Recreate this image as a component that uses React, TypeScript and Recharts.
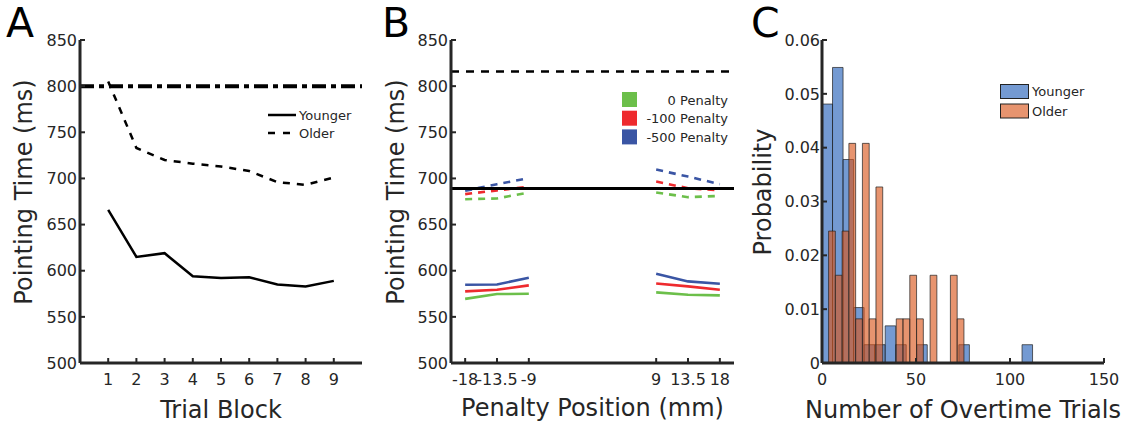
import {
  LineChart, Line, XAxis, YAxis, ReferenceLine, ReferenceArea,
  ComposedChart, Legend, Label,
} from "recharts";

const FONT = "'DejaVu Sans', sans-serif";
const INK = "#262626";

// ---- panel A: pointing time across trial blocks
const trialBlocks = [1, 2, 3, 4, 5, 6, 7, 8, 9];
const youngerByBlock = [666, 615, 619, 594, 592, 593, 585, 583, 589];
const olderByBlock = [805, 733, 720, 716, 713, 708, 696, 693, 701];
const deadlineA = 800;
const timeTicks = [500, 550, 600, 650, 700, 750, 800, 850];

// ---- panel B: pointing time by penalty position
const penaltyPositions = [-18, -13.5, -9, 9, 13.5, 18];
const youngerPen0 = [569.5, 574.7, 575, 576.5, 574, 573.3];
const youngerPen100 = [577.6, 579.4, 584.1, 586.2, 583, 579.4];
const youngerPen500 = [584.8, 585, 592.4, 596.7, 588.4, 585.9];
const olderPen0 = [677.5, 678.3, 684.8, 684.8, 679.7, 681];
const olderPen100 = [683, 687, 691, 696.6, 689.4, 687];
const olderPen500 = [686.6, 693.8, 700.3, 709.6, 702, 693.8];
const olderDeadlineB = 816;
const youngerDeadlineB = 689;

// ---- panel C: histogram of overtime trials
const youngerBinEdges = [0, 5.6, 11.2, 16.8, 22.4, 28, 33.6, 39.2, 44.8, 50.4, 56, 61.6, 67.2, 72.8, 78.4, 84, 89.6, 95.2, 100.8, 106.4, 112];
const youngerProb = [0.0481, 0.0549, 0.0378, 0.0103, 0.0034, 0.0034, 0.0069, 0.0034, 0, 0.0034, 0, 0, 0, 0.0034, 0, 0, 0, 0, 0, 0.0034];
const olderBinEdges = [3.5, 7.1, 10.7, 14.3, 17.9, 21.5, 25.1, 28.7, 32.3, 35.9, 39.5, 43.1, 46.7, 50.3, 53.9, 57.5, 61.1, 64.7, 68.3, 71.9, 75.5];
const olderProb = [0.0245, 0.0163, 0.0245, 0.0408, 0.0082, 0.0408, 0.0082, 0.0327, 0, 0, 0.0082, 0.0082, 0.0163, 0.0082, 0, 0.0163, 0, 0, 0.0163, 0.0082];
const countTicks = [0, 50, 100, 150];
const probTicks = [0, 0.01, 0.02, 0.03, 0.04, 0.05, 0.06];

const penaltySeries = [
  { name: "0 Penalty", color: "#6cbf4a", younger: youngerPen0, older: olderPen0 },
  { name: "-100 Penalty", color: "#ee2a2e", younger: youngerPen100, older: olderPen100 },
  { name: "-500 Penalty", color: "#3a55a4", younger: youngerPen500, older: olderPen500 },
];

const rowsA = trialBlocks.map((b, i) => ({ block: b, younger: youngerByBlock[i], older: olderByBlock[i] }));

// null row at 0 splits left / right segments
const rowsB = penaltyPositions.flatMap((p, i) => {
  const row: Record<string, number | null> = { pos: p };
  penaltySeries.forEach((s, k) => {
    row[`y${k}`] = s.younger[i];
    row[`o${k}`] = s.older[i];
  });
  if (i === 3) {
    const gap: Record<string, number | null> = { pos: 0 };
    penaltySeries.forEach((_, k) => { gap[`y${k}`] = null; gap[`o${k}`] = null; });
    return [gap, row];
  }
  return [row];
});

const binsOf = (edges: number[], probs: number[]) =>
  probs.map((p, i) => ({ x: edges[i], x2: edges[i + 1], p })).filter((b) => b.p > 0);
const youngerBins = binsOf(youngerBinEdges, youngerProb);
const olderBins = binsOf(olderBinEdges, olderProb);

const BLUE = "#235fb8";
const ORANGE = "#d9551b";
const BAR_ALPHA = 0.63;

const tickStyle = { fill: INK, fontSize: 16, fontFamily: FONT };
const axisLine = { stroke: INK, strokeWidth: 3 };
const tickLine = { stroke: INK, strokeWidth: 2 };

const yTitle = (text: string, cx: number) => (props: any) => {
  const vb = props.viewBox || { y: 40, height: 323 };
  const cy = vb.y + vb.height / 2 - 9.5;
  return (
    <text x={cx} y={cy} transform={`rotate(-90 ${cx} ${cy})`} textAnchor="middle"
      dominantBaseline="central" fontSize={24} fontFamily={FONT} fill={INK}>
      {text}
    </text>
  );
};

const xTitle = (text: string, baseline: number) => (props: any) => {
  const vb = props.viewBox || { x: 0, width: 300 };
  return (
    <text x={vb.x + vb.width / 2} y={baseline} textAnchor="middle" fontSize={24} fontFamily={FONT} fill={INK}>
      {text}
    </text>
  );
};

const panelLetter = (letter: string, left: number) => (
  <div style={{ position: "absolute", left, top: 0, fontFamily: FONT, fontSize: 41, lineHeight: "47px", color: "#000" }}>
    {letter}
  </div>
);

function BlockKey() {
  const rows = [{ name: "Younger", dash: undefined }, { name: "Older", dash: "7 8" }];
  return (
    <svg width={90} height={40} style={{ display: "block" }}>
      {rows.map((r, i) => (
        <g key={r.name}>
          <line x1={0} x2={28} y1={7 + i * 18} y2={7 + i * 18} stroke="#000" strokeWidth={2.5} strokeDasharray={r.dash} />
          <text x={31} y={7 + i * 18} dominantBaseline="central" fontSize={13} fontFamily={FONT} fill={INK}>{r.name}</text>
        </g>
      ))}
    </svg>
  );
}

function PenaltyKey() {
  return (
    <svg width={110} height={56} style={{ display: "block" }}>
      {penaltySeries.map((s, i) => (
        <g key={s.name}>
          <rect x={0} y={i * 18.7} width={15} height={15} fill={s.color} />
          <text x={106} y={i * 18.7 + 8} textAnchor="end" dominantBaseline="central" fontSize={13} fontFamily={FONT} fill={INK}>{s.name}</text>
        </g>
      ))}
    </svg>
  );
}

function GroupKey() {
  const rows = [{ name: "Younger", color: BLUE }, { name: "Older", color: ORANGE }];
  return (
    <svg width={90} height={36} style={{ display: "block" }}>
      {rows.map((r, i) => (
        <g key={r.name}>
          <rect x={0.5} y={0.5 + i * 19.5} width={28} height={14} fill={r.color} fillOpacity={BAR_ALPHA} stroke="#222" strokeWidth={1} />
          <text x={32} y={7.5 + i * 19.5} dominantBaseline="central" fontSize={13} fontFamily={FONT} fill={INK}>{r.name}</text>
        </g>
      ))}
    </svg>
  );
}

export default function App() {
  return (
    <div style={{ position: "absolute", left: 0, top: 0, width: 1133, height: 425, background: "#fff", overflow: "hidden" }}>
      {/* A */}
      <div style={{ position: "absolute", left: 0, top: 0 }}>
        <LineChart width={380} height={425} data={rowsA} margin={{ top: 40, right: 18, bottom: 0, left: 0 }}>
          <XAxis dataKey="block" type="number" domain={[0, 10]} ticks={trialBlocks} interval={0}
            height={62} axisLine={axisLine} tickLine={tickLine} tickSize={-5} tickMargin={16} tick={tickStyle}
            label={<Label content={xTitle("Trial Block", 418)} />} />
          <YAxis type="number" domain={[500, 850]} ticks={timeTicks} interval={0} width={80}
            axisLine={axisLine} tickLine={tickLine} tickSize={-5} tickMargin={8} tick={tickStyle}
            label={<Label content={yTitle("Pointing Time (ms)", 24)} />} />
          <ReferenceLine y={deadlineA} stroke="#000" strokeWidth={4} strokeDasharray="14 5 5 5" />
          <Line dataKey="younger" stroke="#000" strokeWidth={2.5} dot={false} isAnimationActive={false} />
          <Line dataKey="older" stroke="#000" strokeWidth={2.5} strokeDasharray="7 7" dot={false} isAnimationActive={false} />
          <Legend layout="horizontal" align="center" verticalAlign="middle" content={() => <BlockKey />}
            wrapperStyle={{ position: "absolute", left: 268, top: 108, width: 90 }} />
        </LineChart>
      </div>
      {panelLetter("A", 6)}

      {/* B */}
      <div style={{ position: "absolute", left: 380, top: 0 }}>
        <LineChart width={370} height={425} data={rowsB} margin={{ top: 40, right: 16, bottom: 0, left: 0 }}>
          <XAxis dataKey="pos" type="number" domain={[-20, 20]} ticks={penaltyPositions} interval={0}
            height={62} axisLine={axisLine} tickLine={tickLine} tickSize={-5} tickMargin={16} tick={tickStyle}
            label={<Label content={xTitle("Penalty Position (mm)", 416)} />} />
          <YAxis type="number" domain={[500, 850]} ticks={timeTicks} interval={0} width={71}
            axisLine={axisLine} tickLine={tickLine} tickSize={-5} tickMargin={8} tick={tickStyle}
            label={<Label content={yTitle("Pointing Time (ms)", 16)} />} />
          {penaltySeries.map((s, k) => (
            <Line key={`o${k}`} dataKey={`o${k}`} stroke={s.color} strokeWidth={2.6} strokeDasharray="7 6"
              dot={false} isAnimationActive={false} />
          ))}
          {penaltySeries.map((s, k) => (
            <Line key={`y${k}`} dataKey={`y${k}`} stroke={s.color} strokeWidth={2.6}
              dot={false} isAnimationActive={false} />
          ))}
          <ReferenceLine y={olderDeadlineB} stroke="#000" strokeWidth={2.5} strokeDasharray="8 7" />
          <ReferenceLine y={youngerDeadlineB} stroke="#000" strokeWidth={3} />
          <Legend layout="horizontal" align="center" verticalAlign="middle" content={() => <PenaltyKey />}
            wrapperStyle={{ position: "absolute", left: 242, top: 92, width: 110 }} />
        </LineChart>
      </div>
      {panelLetter("B", 382)}

      {/* C */}
      <div style={{ position: "absolute", left: 750, top: 0 }}>
        <ComposedChart width={383} height={425} data={youngerBins} margin={{ top: 40, right: 29, bottom: 0, left: 0 }}>
          <XAxis type="number" dataKey="x" domain={[0, 150]} ticks={countTicks} interval={0}
            height={62} axisLine={axisLine} tickLine={tickLine} tickSize={-5} tickMargin={16} tick={tickStyle}
            label={<Label content={xTitle("Number of Overtime Trials", 418)} />} />
          <YAxis type="number" domain={[0, 0.06]} ticks={probTicks} interval={0} width={72}
            axisLine={axisLine} tickLine={tickLine} tickSize={-5} tickMargin={7} tick={tickStyle}
            tickFormatter={(v: number) => (v === 0 ? "0" : v.toFixed(2))}
            label={<Label content={yTitle("Probability", 13)} />} />
          {/* invisible carrier series so the axes get built */}
          <Line dataKey="p" stroke="none" dot={false} activeDot={false} legendType="none" isAnimationActive={false} />
          {youngerBins.map((b, i) => (
            <ReferenceArea key={`yb${i}`} x1={b.x} x2={b.x2} y1={0} y2={b.p}
              fill={BLUE} fillOpacity={BAR_ALPHA} stroke="#222" strokeOpacity={0.7} strokeWidth={1} />
          ))}
          {olderBins.map((b, i) => (
            <ReferenceArea key={`ob${i}`} x1={b.x} x2={b.x2} y1={0} y2={b.p}
              fill={ORANGE} fillOpacity={BAR_ALPHA} stroke="#222" strokeOpacity={0.7} strokeWidth={1} />
          ))}
          <Legend layout="horizontal" align="center" verticalAlign="middle" content={() => <GroupKey />}
            wrapperStyle={{ position: "absolute", left: 250, top: 84, width: 90 }} />
        </ComposedChart>
      </div>
      {panelLetter("C", 751)}
    </div>
  );
}
